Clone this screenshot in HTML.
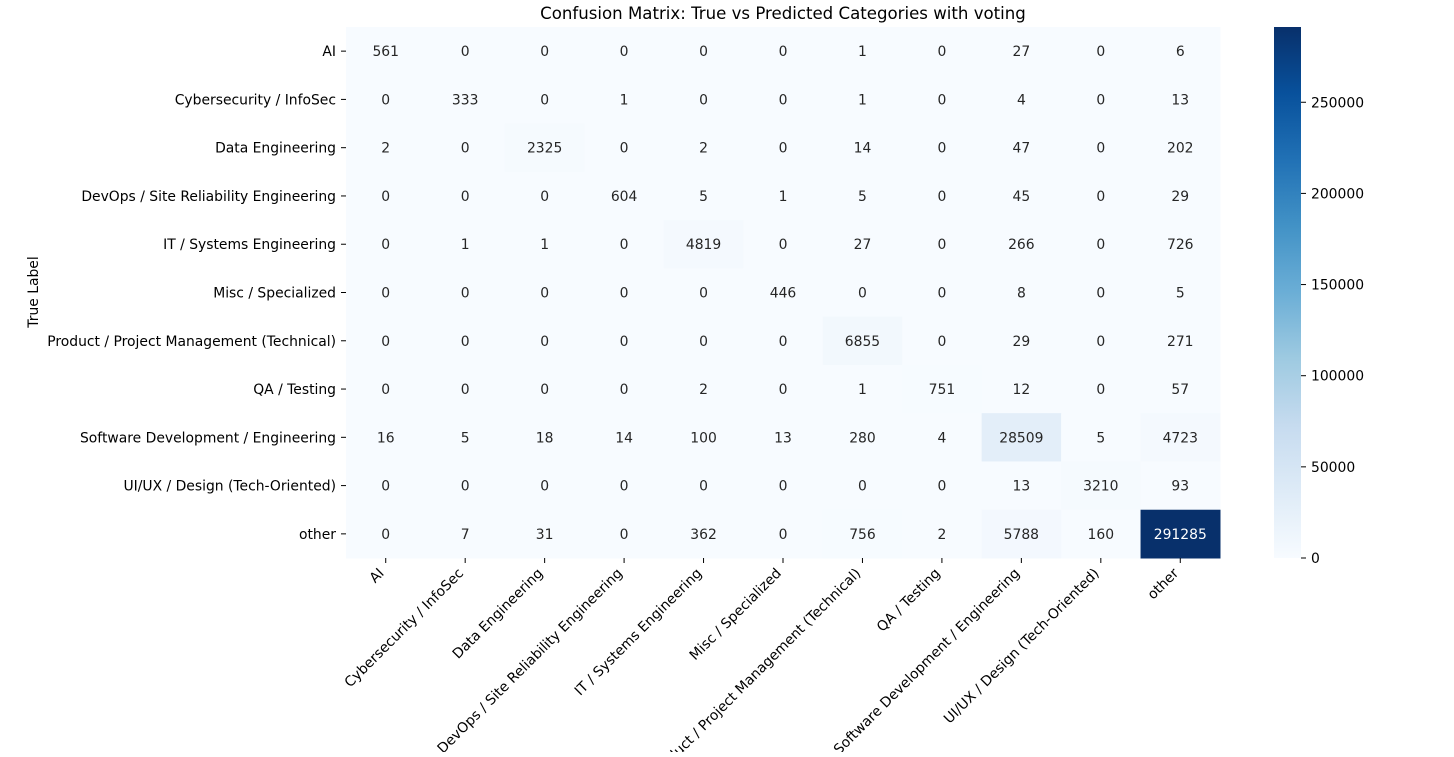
<!DOCTYPE html>
<html><head><meta charset="utf-8"><style>
body{margin:0;background:#fff;}
svg{font-family:"DejaVu Sans","Liberation Sans",sans-serif;}
</style></head><body>
<svg id="chart" width="1454" height="752" xmlns="http://www.w3.org/2000/svg"></svg>
<script>
const categories = ["AI","Cybersecurity / InfoSec","Data Engineering","DevOps / Site Reliability Engineering","IT / Systems Engineering","Misc / Specialized","Product / Project Management (Technical)","QA / Testing","Software Development / Engineering","UI/UX / Design (Tech-Oriented)","other"];
const matrix = [
[561,0,0,0,0,0,1,0,27,0,6],
[0,333,0,1,0,0,1,0,4,0,13],
[2,0,2325,0,2,0,14,0,47,0,202],
[0,0,0,604,5,1,5,0,45,0,29],
[0,1,1,0,4819,0,27,0,266,0,726],
[0,0,0,0,0,446,0,0,8,0,5],
[0,0,0,0,0,0,6855,0,29,0,271],
[0,0,0,0,2,0,1,751,12,0,57],
[16,5,18,14,100,13,280,4,28509,5,4723],
[0,0,0,0,0,0,0,0,13,3210,93],
[0,7,31,0,362,0,756,2,5788,160,291285]
];
const cbTicks = [0,50000,100000,150000,200000,250000];

const NS="http://www.w3.org/2000/svg";
const svg=document.getElementById('chart');
function el(t,a,p){const e=document.createElementNS(NS,t);for(const k in a)e.setAttribute(k,a[k]);(p||svg).appendChild(e);return e;}
const L=346,R=1220,T=27,B=558;
const FS=13.9;
const n=categories.length, cw=(R-L)/n, ch=(B-T)/n;
let vmax=0; matrix.forEach(r=>r.forEach(v=>{if(v>vmax)vmax=v;}));
const stops=["#f7fbff","#deebf7","#c6dbef","#9ecae1","#6baed6","#4292c6","#2171b5","#08519c","#08306b"].map(h=>[1,3,5].map(i=>parseInt(h.substr(i,2),16)));
function color(t){t=Math.max(0,Math.min(1,t));const s=t*(stops.length-1);const i=Math.min(Math.floor(s),stops.length-2);const f=s-i;const c=stops[i].map((v,k)=>Math.round(v+(stops[i+1][k]-v)*f));return {css:`rgb(${c[0]},${c[1]},${c[2]})`,lum:(0.299*c[0]+0.587*c[1]+0.114*c[2])/255};}
const xs=i=>L+cw*(i+0.5), ys=j=>T+ch*(j+0.5);

el('text',{x:783,y:19,'text-anchor':'middle','font-size':16.6,fill:'#000',}).textContent="Confusion Matrix: True vs Predicted Categories with voting";

const g=el('g',{});
matrix.forEach((row,j)=>row.forEach((v,i)=>{
  const c=color(v/vmax);
  const r=el('rect',{x:L+cw*i,y:T+ch*j,width:cw+0.5,height:ch+0.5,fill:c.css},g);
  
  
  const t=el('text',{x:xs(i),y:ys(j)+5,'text-anchor':'middle','font-size':FS,fill:c.lum<0.5?'#fff':'#262626'},g);
  
  
  t.textContent=v;
}));

categories.forEach((c,j)=>{
  el('line',{x1:L-5,x2:L,y1:ys(j),y2:ys(j),stroke:'#000'});
  const t=el('text',{x:L-10,y:ys(j)+5,'text-anchor':'end','font-size':FS,fill:'#000'});
  
  
  t.textContent=c;
});
categories.forEach((c,i)=>{
  el('line',{x1:xs(i),x2:xs(i),y1:B,y2:B+5,stroke:'#000'});
  const x=xs(i)-1,y=B+16;
  const t=el('text',{x:x,y:y,'text-anchor':'end','font-size':FS,fill:'#000',transform:`rotate(-45 ${x} ${y})`});
  
  
  t.textContent=c;
});
el('text',{x:38,y:292,'text-anchor':'middle','font-size':FS,fill:'#000',transform:'rotate(-90 38 292)',}).textContent="True Label";

const cbL=1274,cbW=27;
const defs=el('defs',{});
const lg=el('linearGradient',{id:'cbg',x1:0,y1:1,x2:0,y2:0},defs);
stops.forEach((s,k)=>el('stop',{offset:k/(stops.length-1),'stop-color':`rgb(${s[0]},${s[1]},${s[2]})`},lg));
el('rect',{x:cbL,y:T,width:cbW,height:B-T,fill:'url(#cbg)',});
cbTicks.forEach(v=>{
  const y=B-(B-T)*v/vmax;
  el('line',{x1:cbL+cbW,x2:cbL+cbW+5,y1:y,y2:y,stroke:'#000'});
  const t=el('text',{x:cbL+cbW+10,y:y+5,'font-size':FS,fill:'#000'});
  
  
  t.textContent=v;
});
</script>
</body></html>
